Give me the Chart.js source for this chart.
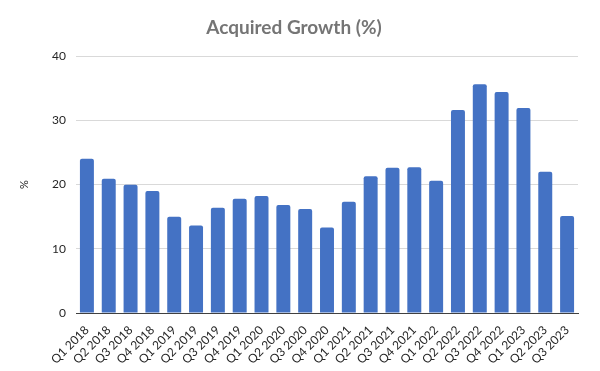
<!DOCTYPE html>
<html lang="en">
<head>
    <meta charset="UTF-8">
    <title>Acquired Growth (%)</title>
    <script src="https://cdn.jsdelivr.net/npm/chart.js"></script>
    <style>
        html, body { margin: 0; padding: 0; background: #fff; }
        #wrap { width: 600px; height: 371px; }
    </style>
</head>
<body>
    <div id="wrap"><canvas id="growthChart" width="600" height="371"></canvas></div>

    <script>
        // data
        var quarters = ['Q1 2018', 'Q2 2018', 'Q3 2018', 'Q4 2018', 'Q1 2019', 'Q2 2019', 'Q3 2019', 'Q4 2019',
            'Q1 2020', 'Q2 2020', 'Q3 2020', 'Q4 2020', 'Q1 2021', 'Q2 2021', 'Q3 2021', 'Q4 2021',
            'Q1 2022', 'Q2 2022', 'Q3 2022', 'Q4 2022', 'Q1 2023', 'Q2 2023', 'Q3 2023'];
        var growth = [24.0, 20.9, 19.95, 19.0, 15.0, 13.6, 16.4, 17.8,
            18.2, 16.8, 16.2, 13.3, 17.3, 21.3, 22.6, 22.7,
            20.6, 31.6, 35.6, 34.4, 31.9, 22.0, 15.1];
        var yTicks = [0, 10, 20, 30, 40];

        var font = "Lato, 'Open Sans', sans-serif";

        var ctx = document.getElementById('growthChart').getContext('2d');
        var growthChart = new Chart(ctx, {
            type: 'bar',
            data: {
                labels: quarters,
                datasets: [{
                    label: 'Acquired Growth (%)',
                    data: growth,
                    backgroundColor: '#4472C4',
                    borderRadius: { topLeft: 2, topRight: 2 },
                    borderSkipped: 'bottom',
                    categoryPercentage: 1,
                    barPercentage: 0.64
                }]
            },
            options: {
                responsive: false,
                animation: false,
                layout: { padding: { left: 10, right: 22, top: 0, bottom: 0 } },
                plugins: {
                    legend: { display: false },
                    tooltip: { enabled: false },
                    title: {
                        display: true,
                        text: 'Acquired Growth (%)',
                        color: '#757575',
                        font: { family: font, size: 19, weight: 'bold' },
                        padding: { top: 16.5, bottom: 16.7 }
                    }
                },
                scales: {
                    x: {
                        grid: { display: false },
                        border: { display: true, color: '#404040', width: 1 },
                        ticks: {
                            color: '#262626',
                            font: { family: font, size: 12 },
                            maxRotation: 45,
                            minRotation: 45,
                            autoSkip: false,
                            padding: 2
                        },
                        afterFit: function (scale) { scale.height = 58; }
                    },
                    y: {
                        min: 0,
                        max: 40,
                        afterBuildTicks: function (scale) {
                            scale.ticks = yTicks.map(function (v) { return { value: v }; });
                        },
                        grid: { color: '#d9d9d9', drawTicks: false },
                        border: { display: false },
                        ticks: {
                            color: '#262626',
                            font: { family: font, size: 12 },
                            padding: 10
                        },
                        title: {
                            display: true,
                            text: '%',
                            color: '#262626',
                            font: { family: font, size: 11 },
                            padding: { top: 8, bottom: 0 }
                        },
                        afterFit: function (scale) { scale.width = 66; }
                    }
                }
            }
        });
    </script>
</body>
</html>
